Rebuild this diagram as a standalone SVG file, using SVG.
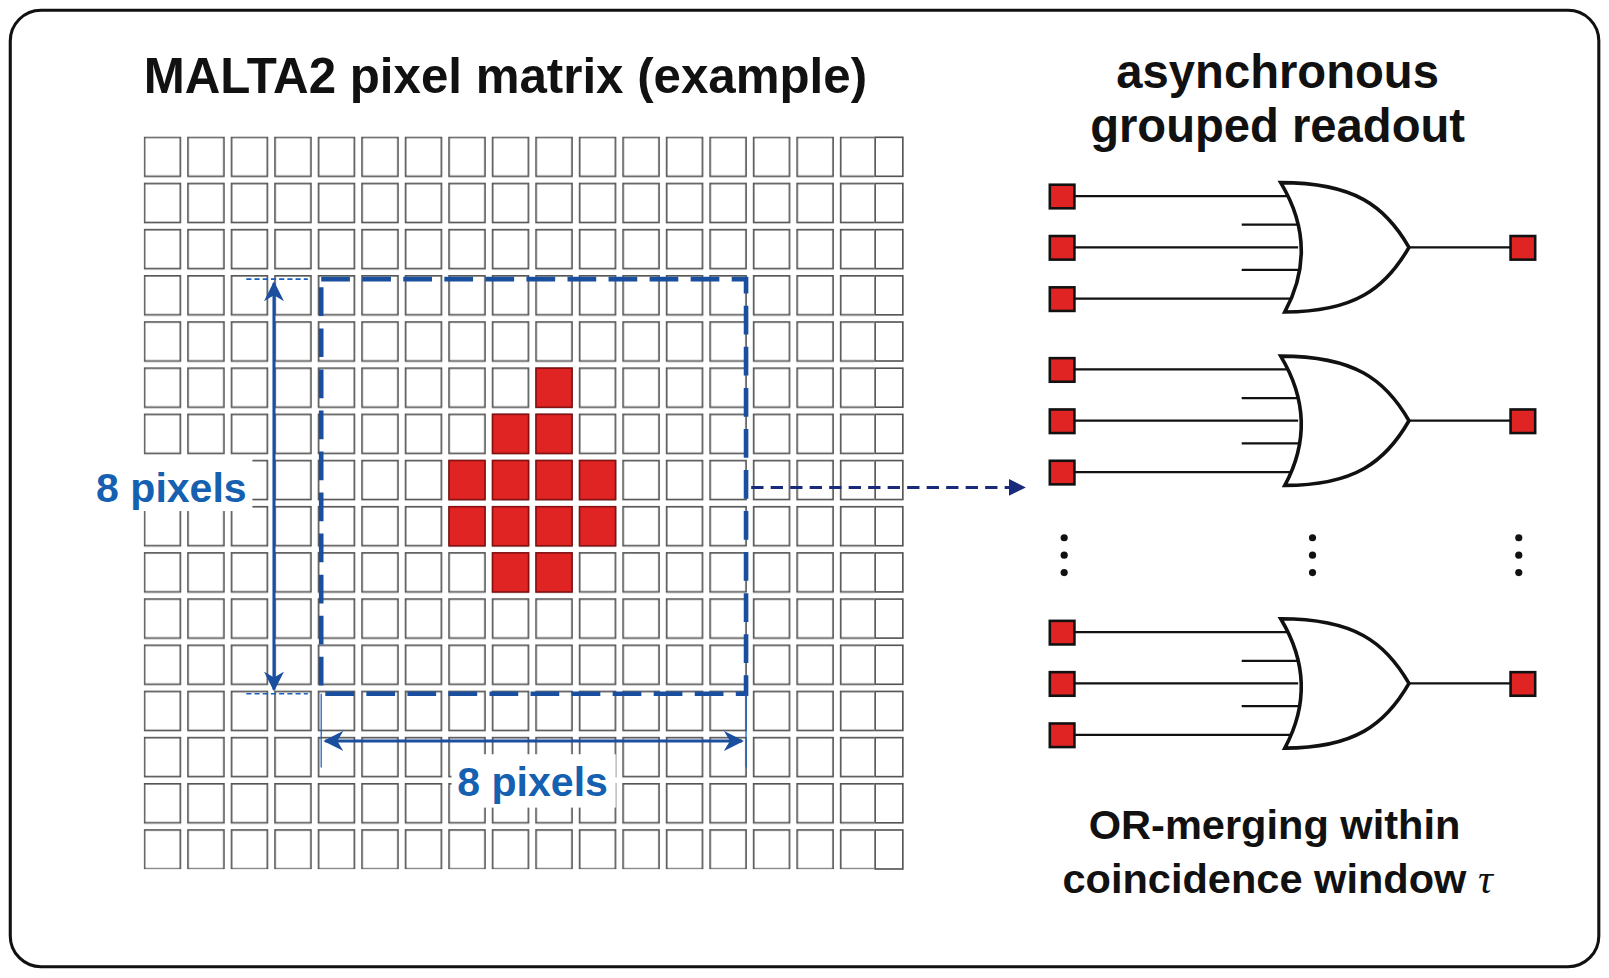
<svg xmlns="http://www.w3.org/2000/svg" width="1609" height="978" viewBox="0 0 1609 978">
<style>
.c{fill:#fff;stroke:#555;stroke-width:1.6}
.r{fill:#e02424;stroke:#8a1010;stroke-width:1.5}
.sq{fill:#e02424;stroke:#111;stroke-width:2.5}
.w{stroke:#111;stroke-width:2.2;fill:none}
.g{fill:#fff;stroke:#111;stroke-width:3.5}
.t{font-family:"Liberation Sans",Arial,sans-serif;font-weight:bold;fill:#111}
.b{font-family:"Liberation Sans",Arial,sans-serif;font-weight:bold;fill:#1560b0;font-size:40px}
.dot{fill:#111}
</style>
<defs>
<pattern id="grid" x="140" y="133" width="42.4" height="45" patternUnits="userSpaceOnUse">
<rect x="0.8" y="0.8" width="35" height="38" class="c"/>
</pattern>
<marker id="ab" viewBox="0 0 10 10" refX="9" refY="5" markerWidth="6.5" markerHeight="6.5" orient="auto-start-reverse"><path d="M0,0 L10,5 L0,10 L3,5 Z" fill="#1a4fa0"/></marker>
<marker id="an" viewBox="0 0 10 10" refX="9" refY="5" markerWidth="5.5" markerHeight="5.5" orient="auto"><path d="M0,0 L10,5 L0,10 Z" fill="#1a2a7a"/></marker>
</defs>
<g transform="scale(1.0262)">
<rect x="10" y="10" width="1548" height="932" rx="30" fill="#fff" stroke="#111" stroke-width="3"/>
<text class="t" x="140" y="91" font-size="48">MALTA2 pixel matrix (example)</text>
<g id="matrix">
<rect x="140" y="133" width="712" height="714" fill="url(#grid)"/>
</g>
<g id="edge-col">
<rect x="852.8" y="133.8" width="27" height="38" class="c"/><rect x="852.8" y="178.8" width="27" height="38" class="c"/><rect x="852.8" y="223.8" width="27" height="38" class="c"/><rect x="852.8" y="268.8" width="27" height="38" class="c"/><rect x="852.8" y="313.8" width="27" height="38" class="c"/><rect x="852.8" y="358.8" width="27" height="38" class="c"/><rect x="852.8" y="403.8" width="27" height="38" class="c"/><rect x="852.8" y="448.8" width="27" height="38" class="c"/><rect x="852.8" y="493.8" width="27" height="38" class="c"/><rect x="852.8" y="538.8" width="27" height="38" class="c"/><rect x="852.8" y="583.8" width="27" height="38" class="c"/><rect x="852.8" y="628.8" width="27" height="38" class="c"/><rect x="852.8" y="673.8" width="27" height="38" class="c"/><rect x="852.8" y="718.8" width="27" height="38" class="c"/><rect x="852.8" y="763.8" width="27" height="38" class="c"/><rect x="852.8" y="808.8" width="27" height="38" class="c"/>
</g>
<g id="hits">
<rect x="522.4" y="358.8" width="35" height="38" class="r"/>
<rect x="480" y="403.8" width="35" height="38" class="r"/><rect x="522.4" y="403.8" width="35" height="38" class="r"/>
<rect x="437.6" y="448.8" width="35" height="38" class="r"/><rect x="480" y="448.8" width="35" height="38" class="r"/><rect x="522.4" y="448.8" width="35" height="38" class="r"/><rect x="564.8" y="448.8" width="35" height="38" class="r"/>
<rect x="437.6" y="493.8" width="35" height="38" class="r"/><rect x="480" y="493.8" width="35" height="38" class="r"/><rect x="522.4" y="493.8" width="35" height="38" class="r"/><rect x="564.8" y="493.8" width="35" height="38" class="r"/>
<rect x="480" y="538.8" width="35" height="38" class="r"/><rect x="522.4" y="538.8" width="35" height="38" class="r"/>
</g>
<g id="group-box">
<rect x="313" y="272" width="414" height="404" fill="none" stroke="#1a4fa0" stroke-width="4.5" stroke-dasharray="28,12"/>
</g>
<g id="connectors">
<path d="M240,272 H300 M240,676 H300" stroke="#1a5fc0" stroke-width="1.5" stroke-dasharray="5,3"/>
<line x1="267" y1="276" x2="267" y2="672" stroke="#1a4fa0" stroke-width="3" marker-start="url(#ab)" marker-end="url(#ab)"/>
<path d="M313,676 V748 M727,676 V748" stroke="#1a5fc0" stroke-width="1.2"/>
<line x1="317" y1="722" x2="723" y2="722" stroke="#1a4fa0" stroke-width="3" marker-start="url(#ab)" marker-end="url(#ab)"/>
<line x1="732" y1="475" x2="998" y2="475" stroke="#1a2a7a" stroke-width="3" stroke-dasharray="12,7" marker-end="url(#an)"/>
</g>
<g id="labels">
<rect x="86" y="446" width="160" height="52" fill="#fff"/>
<text class="b" x="167" y="489" text-anchor="middle">8 pixels</text>
<rect x="440" y="735" width="160" height="52" fill="#fff"/>
<text class="b" x="519" y="776" text-anchor="middle">8 pixels</text>
</g>
<text class="t" x="1245" y="86" font-size="46" text-anchor="middle">asynchronous</text>
<text class="t" x="1245" y="138" font-size="46" text-anchor="middle">grouped readout</text>
<g id="gate1" transform="translate(0,241)">
<path class="w" d="M1047,-50 H1265 M1047,0 H1265 M1047,50 H1265 M1210,-22 H1265 M1210,22 H1265 M1373,0 H1474"/>
<path class="g" d="M1248,-63 C1320,-63 1350,-40 1373,0 C1350,40 1320,63 1252,63 Q1286,0 1248,-63 Z"/>
<rect class="sq" x="1023" y="-61" width="24" height="23"/><rect class="sq" x="1023" y="-11" width="24" height="23"/><rect class="sq" x="1023" y="39" width="24" height="23"/><rect class="sq" x="1472" y="-11" width="24" height="23"/>
</g>
<g id="gate2" transform="translate(0,410)">
<path class="w" d="M1047,-50 H1265 M1047,0 H1265 M1047,50 H1265 M1210,-22 H1265 M1210,22 H1265 M1373,0 H1474"/>
<path class="g" d="M1248,-63 C1320,-63 1350,-40 1373,0 C1350,40 1320,63 1252,63 Q1286,0 1248,-63 Z"/>
<rect class="sq" x="1023" y="-61" width="24" height="23"/><rect class="sq" x="1023" y="-11" width="24" height="23"/><rect class="sq" x="1023" y="39" width="24" height="23"/><rect class="sq" x="1472" y="-11" width="24" height="23"/>
</g>
<g id="dots">
<circle class="dot" cx="1037" cy="524" r="3.5"/><circle class="dot" cx="1037" cy="541" r="3.5"/><circle class="dot" cx="1037" cy="558" r="3.5"/>
<circle class="dot" cx="1279" cy="524" r="3.5"/><circle class="dot" cx="1279" cy="541" r="3.5"/><circle class="dot" cx="1279" cy="558" r="3.5"/>
<circle class="dot" cx="1480" cy="524" r="3.5"/><circle class="dot" cx="1480" cy="541" r="3.5"/><circle class="dot" cx="1480" cy="558" r="3.5"/>
</g>
<g id="gate3" transform="translate(0,666)">
<path class="w" d="M1047,-50 H1265 M1047,0 H1265 M1047,50 H1265 M1210,-22 H1265 M1210,22 H1265 M1373,0 H1474"/>
<path class="g" d="M1248,-63 C1320,-63 1350,-40 1373,0 C1350,40 1320,63 1252,63 Q1286,0 1248,-63 Z"/>
<rect class="sq" x="1023" y="-61" width="24" height="23"/><rect class="sq" x="1023" y="-11" width="24" height="23"/><rect class="sq" x="1023" y="39" width="24" height="23"/><rect class="sq" x="1472" y="-11" width="24" height="23"/>
</g>
<text class="t" x="1242" y="818" font-size="40.5" text-anchor="middle">OR-merging within</text>
<text class="t" x="1245" y="870" font-size="40.5" text-anchor="middle">coincidence window <tspan font-family="'Liberation Serif',serif" font-style="italic" font-weight="normal">τ</tspan></text>
</g>
</svg>
